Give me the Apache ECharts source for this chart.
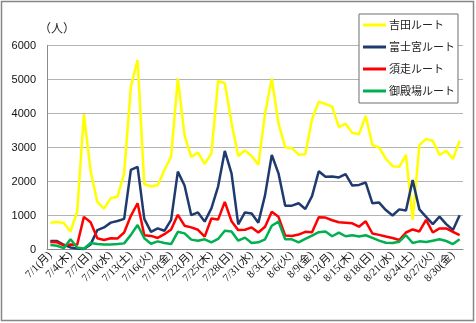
<!DOCTYPE html>
<html>
<head>
<meta charset="utf-8">
<script src="https://cdn.jsdelivr.net/npm/echarts@6/dist/echarts.min.js"></script>
<style>
  html, body { margin: 0; padding: 0; background: #fff; }
  #chart { width: 476px; height: 323px; }
</style>
</head>
<body>
<div id="chart"></div>
<script>
// Daily climbers per trail, 7/1 - 8/31
const categories = [
  '7/1(月)','7/2(火)','7/3(水)','7/4(木)','7/5(金)','7/6(土)','7/7(日)',
  '7/8(月)','7/9(火)','7/10(水)','7/11(木)','7/12(金)','7/13(土)','7/14(日)',
  '7/15(月)','7/16(火)','7/17(水)','7/18(木)','7/19(金)','7/20(土)','7/21(日)',
  '7/22(月)','7/23(火)','7/24(水)','7/25(木)','7/26(金)','7/27(土)','7/28(日)',
  '7/29(月)','7/30(火)','7/31(水)',
  '8/1(木)','8/2(金)','8/3(土)','8/4(日)','8/5(月)','8/6(火)','8/7(水)',
  '8/8(木)','8/9(金)','8/10(土)','8/11(日)','8/12(月)','8/13(火)','8/14(水)',
  '8/15(木)','8/16(金)','8/17(土)','8/18(日)','8/19(月)','8/20(火)','8/21(水)',
  '8/22(木)','8/23(金)','8/24(土)','8/25(日)','8/26(月)','8/27(火)','8/28(水)',
  '8/29(木)','8/30(金)','8/31(土)'
];

const yoshida = [
  790, 810, 780, 530, 1110, 3980, 2300, 1400, 1200, 1510,
  1550, 2240, 4790, 5570, 1920, 1860, 1890, 2340, 2730, 5030,
  3360, 2720, 2850, 2520, 2820, 4960, 4890, 3730, 2750, 2910,
  2750, 2490, 4000, 5030, 3710, 3010, 2980, 2790, 2800, 3830,
  4350, 4280, 4200, 3600, 3700, 3430, 3390, 3925, 3070, 3000,
  2670, 2450, 2430, 2780, 870, 3070, 3250, 3200, 2780, 2900,
  2660, 3200
];

const fujinomiya = [
  250, 250, 140, 60, 30, 15, 150, 570, 650, 790,
  840, 900, 2340, 2430, 900, 520, 620, 550, 870, 2290,
  1880, 1010, 1090, 820, 1210, 1850, 2900, 2240, 740, 1090,
  1060, 790, 1600, 2780, 2240, 1290, 1290, 1360, 1190, 1570,
  2300, 2140, 2150, 2120, 2220, 1880, 1900, 1970, 1360, 1380,
  1160, 1000, 1180, 1150, 2040, 1180, 960, 745, 965, 745,
  575, 1010
];

const subashiri = [
  220, 210, 120, 150, 140, 960, 800, 330, 280, 330,
  320, 500, 990, 1360, 420, 400, 340, 450, 590, 1020,
  700, 650, 580, 380, 910, 880, 1400, 830, 570, 580,
  650, 500, 670, 1110, 960, 410, 400, 440, 520, 510,
  950, 940, 860, 800, 790, 770, 670, 830, 470, 430,
  380, 340, 280, 500, 590, 530, 870, 500, 620, 620,
  520, 420
];

const gotemba = [
  130, 110, 40, 300, 60, 20, 190, 160, 150, 150,
  160, 180, 430, 720, 330, 170, 240, 190, 160, 520,
  475, 290, 255, 300, 210, 310, 550, 530, 260, 350,
  190, 210, 300, 700, 820, 300, 300, 210, 310, 410,
  510, 530, 390, 495, 390, 420, 380, 420, 340, 260,
  200, 190, 230, 420, 190, 240, 220, 260, 300, 250,
  160, 300
];

const seriesNames = ['吉田ルート', '富士宮ルート', '須走ルート', '御殿場ルート'];
const seriesColors = ['#FFFF00', '#1F3A6E', '#FF0000', '#00B050'];
const seriesData = [yoshida, fujinomiya, subashiri, gotemba];

const jpFont = "'Noto Sans CJK JP', sans-serif";
const chart = echarts.init(document.getElementById('chart'), null, { renderer: 'canvas' });

chart.setOption({
  animation: false,
  backgroundColor: '#ffffff',
  graphic: [
    {
      type: 'rect',
      shape: { x: 1.5, y: 1.5, width: 472, height: 319 },
      style: { fill: 'none', stroke: '#868686', lineWidth: 1.5 },
      silent: true,
      z: 0
    },
    {
      type: 'text',
      left: 39,
      top: 22,
      style: { text: '（人）', font: "12px 'Noto Sans CJK JP'", fill: '#222' }
    }
  ],
  grid: { left: 47, top: 45.5, width: 416, height: 204 },
  legend: {
    orient: 'vertical',
    left: 359,
    top: 14,
    padding: [4, 3, 5, 4],
    itemWidth: 23,
    itemHeight: 3,
    itemGap: 8,
    icon: 'rect',
    backgroundColor: '#ffffff',
    borderColor: '#6e6e6e',
    borderWidth: 1,
    textStyle: { fontFamily: jpFont, fontSize: 11, color: '#222', lineHeight: 14, padding: [0, 0, 0, -2] },
    data: seriesNames
  },
  xAxis: {
    type: 'category',
    data: categories,
    boundaryGap: true,
    axisLine: { lineStyle: { color: '#8a8a8a', width: 1 } },
    axisTick: { interval: 2, length: 4, lineStyle: { color: '#8a8a8a' } },
    axisLabel: {
      interval: 2,
      rotate: 45,
      margin: 4,
      fontSize: 11,
      color: '#111',
      fontFamily: "'Liberation Serif', 'Noto Sans CJK JP', serif"
    },
    splitLine: { show: false }
  },
  yAxis: {
    type: 'value',
    min: 0,
    max: 6000,
    interval: 1000,
    axisLine: { show: true, lineStyle: { color: '#8a8a8a', width: 1 } },
    axisTick: { show: false },
    axisLabel: {
      margin: 11,
      fontSize: 11,
      color: '#111',
      fontFamily: "'Liberation Sans', Arial, sans-serif",
      formatter: (v) => String(v)
    },
    splitLine: { lineStyle: { color: '#b4b4b4', width: 1 } }
  },
  series: seriesNames.map((name, k) => ({
    name: name,
    type: 'line',
    data: seriesData[k],
    symbol: 'none',
    smooth: false,
    color: seriesColors[k],
    lineStyle: { width: 2.5, color: seriesColors[k] },
    z: 2 + k
  }))
});
</script>
</body>
</html>
